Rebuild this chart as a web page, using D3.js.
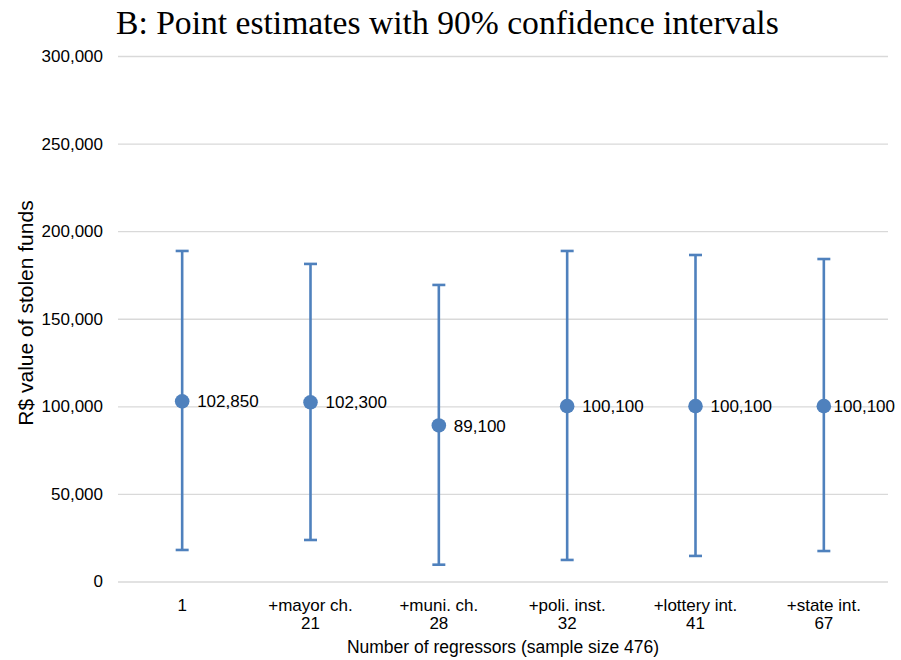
<!DOCTYPE html>
<html><head><meta charset="utf-8">
<script src="https://cdn.jsdelivr.net/npm/d3@7/dist/d3.min.js"></script>
<style>body{margin:0;background:#fff}svg{display:block}</style>
</head><body>
<svg id="c" width="901" height="660"></svg>
<script>
const categories = ["1", "+mayor ch.", "+muni. ch.", "+poli. inst.", "+lottery int.", "+state int."];
const regressors = ["", "21", "28", "32", "41", "67"];
const estimates = [102850, 102300, 89100, 100100, 100100, 100100];
const estimateLabels = ["102,850", "102,300", "89,100", "100,100", "100,100", "100,100"];
const upper = [188700, 181300, 169300, 188700, 186400, 184100];
const lower = [18000, 23700, 9600, 12300, 14600, 17400];
const yTicks = [0, 50000, 100000, 150000, 200000, 250000, 300000];

const W = 901, H = 660;
const m = {left: 118, right: 13, top: 56, bottom: 78.5};
const svg = d3.select("#c");
const blue = "#4F81BD";
const sans = "'Liberation Sans', Arial, sans-serif";

const x = d3.scaleBand().domain(categories).range([m.left, W - m.right]);
const y = d3.scaleLinear().domain([0, 300000]).range([H - m.bottom, m.top]);

// gridlines + y labels
const yAxis = d3.axisLeft(y).tickValues(yTicks).tickSize(-(W - m.left - m.right)).tickPadding(15)
  .tickFormat(d3.format(","));
const gy = svg.append("g").attr("transform", `translate(${m.left},0)`).call(yAxis);
gy.select(".domain").remove();
gy.selectAll(".tick line").attr("stroke", "#D9D9D9").attr("stroke-width", 1.3);
gy.selectAll(".tick text").attr("font-family", sans).attr("font-size", 17).attr("fill", "#000");

// x axis labels
const xAxis = d3.axisBottom(x).tickSize(0).tickFormat("");
const gx = svg.append("g").attr("transform", `translate(0,${H - m.bottom})`).call(xAxis);
gx.select(".domain").remove();
gx.selectAll(".tick").each(function(d, i) {
  const t = d3.select(this).append("text").attr("font-family", sans).attr("font-size", 17)
    .attr("fill", "#000").attr("text-anchor", "middle");
  t.append("tspan").attr("x", 0).attr("y", 29).text(d);
  if (regressors[i]) t.append("tspan").attr("x", 0).attr("y", 47).text(regressors[i]);
});

// error bars
const cx = c => x(c) + x.bandwidth() / 2;
const g = svg.append("g");
categories.forEach((c, i) => {
  const xc = cx(c);
  g.append("line").attr("x1", xc).attr("x2", xc).attr("y1", y(upper[i])).attr("y2", y(lower[i]))
    .attr("stroke", blue).attr("stroke-width", 2.6);
  [upper[i], lower[i]].forEach(v => {
    g.append("line").attr("x1", xc - 6.5).attr("x2", xc + 6.5).attr("y1", y(v)).attr("y2", y(v))
      .attr("stroke", blue).attr("stroke-width", 2.6);
  });
});
// points
g.selectAll("circle").data(categories).join("circle")
  .attr("cx", d => cx(d)).attr("cy", (d, i) => y(estimates[i])).attr("r", 7.3).attr("fill", blue);
// point labels
categories.forEach((c, i) => {
  const t = g.append("text").attr("font-family", sans).attr("font-size", 17).attr("fill", "#000")
    .attr("y", y(estimates[i])).attr("dy", "0.36em").text(estimateLabels[i]);
  const w = t.node().getComputedTextLength();
  let tx = cx(c) + 15;
  if (tx + w > W - 6) tx = W - 6 - w;
  t.attr("x", tx);
});

// axis titles
svg.append("text").attr("font-family", sans).attr("font-size", 17.5).attr("fill", "#000")
  .attr("text-anchor", "middle").attr("x", (m.left + W - m.right) / 2).attr("y", 653)
  .text("Number of regressors (sample size 476)");
svg.append("text").attr("font-family", sans).attr("font-size", 21).attr("fill", "#000")
  .attr("text-anchor", "middle").attr("transform", `translate(33,313) rotate(-90)`)
  .text("R$ value of stolen funds");

// title
const title = svg.append("text").attr("font-family", "'Liberation Serif', 'DejaVu Serif', serif")
  .attr("font-size", 32).attr("fill", "#000").attr("x", 116).attr("y", 34)
  .text("B: Point estimates with 90% confidence intervals");
const tw = title.node().getComputedTextLength();
title.attr("font-size", 32 * 663 / tw);
</script>
</body></html>
